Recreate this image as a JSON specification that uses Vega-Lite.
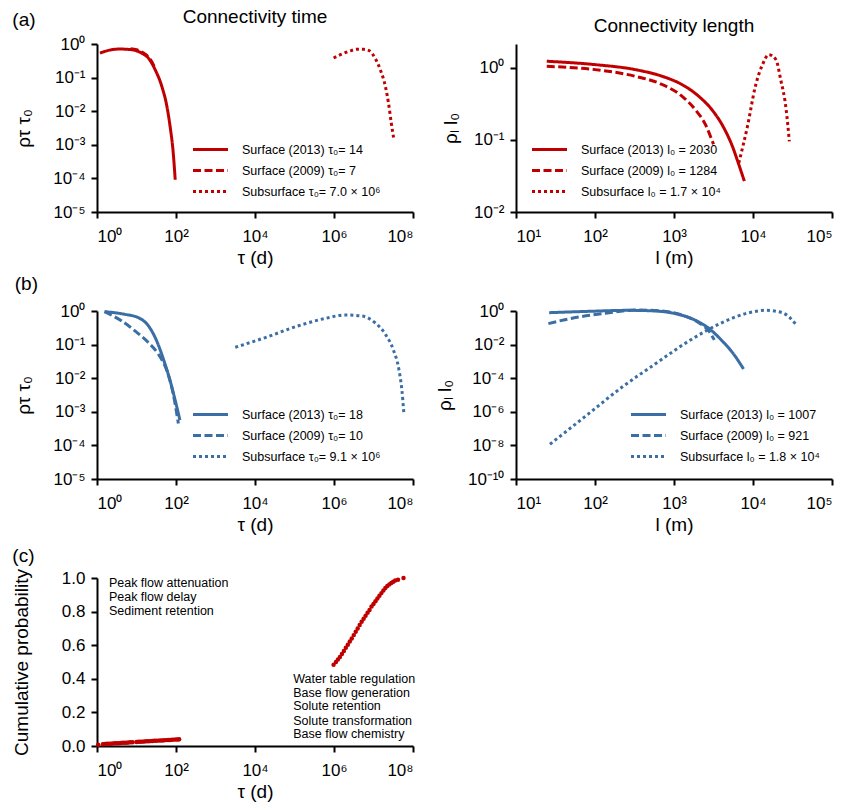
{
  "$schema": "https://vega.github.io/schema/vega-lite/v6.json",
  "padding": {"left": 12, "top": 8, "right": 5, "bottom": 5},
  "config": {
    "font": "Liberation Sans",
    "view": {"stroke": null},
    "axis": {"domainColor": "#000", "domainWidth": 2, "tickColor": "#000", "tickWidth": 2, "tickSize": 6, "labelFontSize": 17, "labelColor": "#000", "titleFontSize": 19, "titleFontWeight": "normal", "titleColor": "#000", "grid": false, "labelPadding": 6, "labelOverlap": false},
    "axisX": {"labelPadding": 10},
    "legend": {"labelFontSize": 12.5, "labelColor": "#000", "labelLimit": 400, "padding": 0, "rowPadding": 7, "labelOffset": 24, "symbolStrokeWidth": 3, "symbolSize": 136, "symbolType": "M-3,0H3"},
    "title": {"fontSize": 19, "fontWeight": "normal", "color": "#000"}
  },
  "title": {"text": "(a)", "anchor": "start", "frame": "bounds", "offset": 0, "dy": 22},
  "columns": 2,
  "spacing": {"row": 99, "column": 103},
  "bounds": "flush",
  "resolve": {"scale": {"x": "independent", "y": "independent", "strokeDash": "independent"}, "legend": {"strokeDash": "independent"}},
  "concat": [
    {
      "width": 316, "height": 168,
      "title": {"text": "Connectivity time", "anchor": "middle", "frame": "group", "offset": 8},
      "data": {"values": [
        {"s": "Surface (2013) τ₀= 14", "x": 1.19, "y": 0.537},
        {"s": "Surface (2013) τ₀= 14", "x": 1.95, "y": 0.646},
        {"s": "Surface (2013) τ₀= 14", "x": 3.8, "y": 0.708},
        {"s": "Surface (2013) τ₀= 14", "x": 7.59, "y": 0.676},
        {"s": "Surface (2013) τ₀= 14", "x": 13.5, "y": 0.537},
        {"s": "Surface (2013) τ₀= 14", "x": 20, "y": 0.38},
        {"s": "Surface (2013) τ₀= 14", "x": 29.5, "y": 0.174},
        {"s": "Surface (2013) τ₀= 14", "x": 43.7, "y": 0.055},
        {"s": "Surface (2013) τ₀= 14", "x": 58.9, "y": 0.0138},
        {"s": "Surface (2013) τ₀= 14", "x": 70.8, "y": 0.00355},
        {"s": "Surface (2013) τ₀= 14", "x": 85.1, "y": 0.000575},
        {"s": "Surface (2013) τ₀= 14", "x": 95.5, "y": 0.0000912},
        {"s": "Surface (2009) τ₀= 7", "x": 7.08, "y": 0.724},
        {"s": "Surface (2009) τ₀= 7", "x": 10, "y": 0.676},
        {"s": "Surface (2009) τ₀= 7", "x": 13.2, "y": 0.589},
        {"s": "Surface (2009) τ₀= 7", "x": 17, "y": 0.49},
        {"s": "Surface (2009) τ₀= 7", "x": 21.4, "y": 0.372},
        {"s": "Surface (2009) τ₀= 7", "x": 26.9, "y": 0.24},
        {"s": "Surface (2009) τ₀= 7", "x": 29.5, "y": 0.191},
        {"s": "Subsurface τ₀= 7.0 × 10⁶", "x": 977000, "y": 0.383},
        {"s": "Subsurface τ₀= 7.0 × 10⁶", "x": 1585000, "y": 0.501},
        {"s": "Subsurface τ₀= 7.0 × 10⁶", "x": 2512000, "y": 0.617},
        {"s": "Subsurface τ₀= 7.0 × 10⁶", "x": 3980000, "y": 0.7},
        {"s": "Subsurface τ₀= 7.0 × 10⁶", "x": 5620000, "y": 0.692},
        {"s": "Subsurface τ₀= 7.0 × 10⁶", "x": 7500000, "y": 0.646},
        {"s": "Subsurface τ₀= 7.0 × 10⁶", "x": 10960000, "y": 0.38},
        {"s": "Subsurface τ₀= 7.0 × 10⁶", "x": 14790000, "y": 0.174},
        {"s": "Subsurface τ₀= 7.0 × 10⁶", "x": 19950000, "y": 0.055},
        {"s": "Subsurface τ₀= 7.0 × 10⁶", "x": 23990000, "y": 0.0174},
        {"s": "Subsurface τ₀= 7.0 × 10⁶", "x": 28180000, "y": 0.00447},
        {"s": "Subsurface τ₀= 7.0 × 10⁶", "x": 32360000, "y": 0.00158}
      ]},
      "mark": {"type": "line", "color": "#c00000", "strokeWidth": 3, "interpolate": "monotone"},
      "encoding": {
        "x": {"field": "x", "type": "quantitative", "scale": {"type": "log", "domain": [1, 100000000], "nice": false},
              "axis": {"title": "τ (d)", "values": [1, 100, 10000, 1000000, 100000000], "labelExpr": "'10' + ['⁻¹⁰','⁻⁹','⁻⁸','⁻⁷','⁻⁶','⁻⁵','⁻⁴','⁻³','⁻²','⁻¹','⁰','¹','²','³','⁴','⁵','⁶','⁷','⁸','⁹'][round(log(datum.value)/LN10)+10]"}},
        "y": {"field": "y", "type": "quantitative", "scale": {"type": "log", "domain": [0.00001, 1], "nice": false},
              "axis": {"title": "ρτ τ₀", "titlePadding": 19, "values": [0.00001, 0.0001, 0.001, 0.01, 0.1, 1], "labelExpr": "'10' + ['⁻¹⁰','⁻⁹','⁻⁸','⁻⁷','⁻⁶','⁻⁵','⁻⁴','⁻³','⁻²','⁻¹','⁰','¹','²','³','⁴','⁵','⁶','⁷','⁸','⁹'][round(log(datum.value)/LN10)+10]"}},
        "strokeDash": {"field": "s", "type": "nominal",
              "scale": {"domain": ["Surface (2013) τ₀= 14", "Surface (2009) τ₀= 7", "Subsurface τ₀= 7.0 × 10⁶"], "range": [[1, 0], [8, 3.5], [3, 3]]},
              "legend": {"title": null, "orient": "none", "legendX": 106, "legendY": 98}}
      }
    },
    {
      "width": 316, "height": 168,
      "title": {"text": "Connectivity length", "anchor": "middle", "frame": "group", "offset": 8},
      "data": {"values": [
        {"s": "Surface (2013) l₀ = 2030", "x": 24.5, "y": 1.239},
        {"s": "Surface (2013) l₀ = 2030", "x": 100, "y": 1.112},
        {"s": "Surface (2013) l₀ = 2030", "x": 323.6, "y": 0.948},
        {"s": "Surface (2013) l₀ = 2030", "x": 707.9, "y": 0.766},
        {"s": "Surface (2013) l₀ = 2030", "x": 1259, "y": 0.589},
        {"s": "Surface (2013) l₀ = 2030", "x": 2042, "y": 0.407},
        {"s": "Surface (2013) l₀ = 2030", "x": 3020, "y": 0.263},
        {"s": "Surface (2013) l₀ = 2030", "x": 4266, "y": 0.148},
        {"s": "Surface (2013) l₀ = 2030", "x": 5495, "y": 0.0813},
        {"s": "Surface (2013) l₀ = 2030", "x": 6607, "y": 0.0457},
        {"s": "Surface (2013) l₀ = 2030", "x": 7762, "y": 0.0269},
        {"s": "Surface (2009) l₀ = 1284", "x": 24.5, "y": 1.054},
        {"s": "Surface (2009) l₀ = 1284", "x": 100, "y": 0.948},
        {"s": "Surface (2009) l₀ = 1284", "x": 323.6, "y": 0.766},
        {"s": "Surface (2009) l₀ = 1284", "x": 707.9, "y": 0.589},
        {"s": "Surface (2009) l₀ = 1284", "x": 1259, "y": 0.407},
        {"s": "Surface (2009) l₀ = 1284", "x": 1862, "y": 0.263},
        {"s": "Surface (2009) l₀ = 1284", "x": 2512, "y": 0.162},
        {"s": "Surface (2009) l₀ = 1284", "x": 3162, "y": 0.0871},
        {"s": "Subsurface l₀ = 1.7 × 10⁴", "x": 6607, "y": 0.0479},
        {"s": "Subsurface l₀ = 1.7 × 10⁴", "x": 8511, "y": 0.155},
        {"s": "Subsurface l₀ = 1.7 × 10⁴", "x": 10715, "y": 0.556},
        {"s": "Subsurface l₀ = 1.7 × 10⁴", "x": 13183, "y": 1.112},
        {"s": "Subsurface l₀ = 1.7 × 10⁴", "x": 15849, "y": 1.531},
        {"s": "Subsurface l₀ = 1.7 × 10⁴", "x": 19498, "y": 1.306},
        {"s": "Subsurface l₀ = 1.7 × 10⁴", "x": 22387, "y": 0.692},
        {"s": "Subsurface l₀ = 1.7 × 10⁴", "x": 26303, "y": 0.263},
        {"s": "Subsurface l₀ = 1.7 × 10⁴", "x": 28840, "y": 0.0955}
      ]},
      "mark": {"type": "line", "color": "#c00000", "strokeWidth": 3, "interpolate": "monotone"},
      "encoding": {
        "x": {"field": "x", "type": "quantitative", "scale": {"type": "log", "domain": [10, 100000], "nice": false},
              "axis": {"title": "l (m)", "values": [10, 100, 1000, 10000, 100000], "labelExpr": "'10' + ['⁻¹⁰','⁻⁹','⁻⁸','⁻⁷','⁻⁶','⁻⁵','⁻⁴','⁻³','⁻²','⁻¹','⁰','¹','²','³','⁴','⁵','⁶','⁷','⁸','⁹'][round(log(datum.value)/LN10)+10]"}},
        "y": {"field": "y", "type": "quantitative", "scale": {"type": "log", "domain": [0.01, 2.15], "nice": false},
              "axis": {"title": "ρₗ l₀", "titlePadding": 13, "values": [0.01, 0.1, 1], "labelExpr": "'10' + ['⁻¹⁰','⁻⁹','⁻⁸','⁻⁷','⁻⁶','⁻⁵','⁻⁴','⁻³','⁻²','⁻¹','⁰','¹','²','³','⁴','⁵','⁶','⁷','⁸','⁹'][round(log(datum.value)/LN10)+10]"}},
        "strokeDash": {"field": "s", "type": "nominal",
              "scale": {"domain": ["Surface (2013) l₀ = 2030", "Surface (2009) l₀ = 1284", "Subsurface l₀ = 1.7 × 10⁴"], "range": [[1, 0], [8, 3.5], [3, 3]]},
              "legend": {"title": null, "orient": "none", "legendX": 26, "legendY": 98}}
      }
    },
    {
      "width": 316, "height": 168,
      "title": {"text": "(b)", "anchor": "start", "frame": "bounds", "offset": 8},
      "data": {"values": [
        {"s": "Surface (2013) τ₀= 18", "x": 1.55, "y": 0.955},
        {"s": "Surface (2013) τ₀= 18", "x": 5.13, "y": 0.794},
        {"s": "Surface (2013) τ₀= 18", "x": 11.2, "y": 0.631},
        {"s": "Surface (2013) τ₀= 18", "x": 20, "y": 0.363},
        {"s": "Surface (2013) τ₀= 18", "x": 32.4, "y": 0.129},
        {"s": "Surface (2013) τ₀= 18", "x": 47.9, "y": 0.0372},
        {"s": "Surface (2013) τ₀= 18", "x": 70.8, "y": 0.00851},
        {"s": "Surface (2013) τ₀= 18", "x": 95.5, "y": 0.00219},
        {"s": "Surface (2013) τ₀= 18", "x": 125.9, "y": 0.000562},
        {"s": "Surface (2009) τ₀= 10", "x": 1.55, "y": 0.955},
        {"s": "Surface (2009) τ₀= 10", "x": 4.27, "y": 0.501},
        {"s": "Surface (2009) τ₀= 10", "x": 9.12, "y": 0.257},
        {"s": "Surface (2009) τ₀= 10", "x": 20, "y": 0.115},
        {"s": "Surface (2009) τ₀= 10", "x": 35.5, "y": 0.0525},
        {"s": "Surface (2009) τ₀= 10", "x": 58.9, "y": 0.0166},
        {"s": "Surface (2009) τ₀= 10", "x": 85.1, "y": 0.00339},
        {"s": "Surface (2009) τ₀= 10", "x": 114.8, "y": 0.000447},
        {"s": "Subsurface τ₀= 9.1 × 10⁶", "x": 3162, "y": 0.0832},
        {"s": "Subsurface τ₀= 9.1 × 10⁶", "x": 18197, "y": 0.162},
        {"s": "Subsurface τ₀= 9.1 × 10⁶", "x": 125893, "y": 0.363},
        {"s": "Subsurface τ₀= 9.1 × 10⁶", "x": 602560, "y": 0.603},
        {"s": "Subsurface τ₀= 9.1 × 10⁶", "x": 1905000, "y": 0.759},
        {"s": "Subsurface τ₀= 9.1 × 10⁶", "x": 5130000, "y": 0.708},
        {"s": "Subsurface τ₀= 9.1 × 10⁶", "x": 10960000, "y": 0.447},
        {"s": "Subsurface τ₀= 9.1 × 10⁶", "x": 19950000, "y": 0.204},
        {"s": "Subsurface τ₀= 9.1 × 10⁶", "x": 32360000, "y": 0.0661},
        {"s": "Subsurface τ₀= 9.1 × 10⁶", "x": 43650000, "y": 0.0191},
        {"s": "Subsurface τ₀= 9.1 × 10⁶", "x": 52480000, "y": 0.00427},
        {"s": "Subsurface τ₀= 9.1 × 10⁶", "x": 58880000, "y": 0.000871}
      ]},
      "mark": {"type": "line", "color": "#3a6ea5", "strokeWidth": 3, "interpolate": "monotone"},
      "encoding": {
        "x": {"field": "x", "type": "quantitative", "scale": {"type": "log", "domain": [1, 100000000], "nice": false},
              "axis": {"title": "τ (d)", "values": [1, 100, 10000, 1000000, 100000000], "labelExpr": "'10' + ['⁻¹⁰','⁻⁹','⁻⁸','⁻⁷','⁻⁶','⁻⁵','⁻⁴','⁻³','⁻²','⁻¹','⁰','¹','²','³','⁴','⁵','⁶','⁷','⁸','⁹'][round(log(datum.value)/LN10)+10]"}},
        "y": {"field": "y", "type": "quantitative", "scale": {"type": "log", "domain": [0.00001, 1], "nice": false},
              "axis": {"title": "ρτ τ₀", "titlePadding": 19, "values": [0.00001, 0.0001, 0.001, 0.01, 0.1, 1], "labelExpr": "'10' + ['⁻¹⁰','⁻⁹','⁻⁸','⁻⁷','⁻⁶','⁻⁵','⁻⁴','⁻³','⁻²','⁻¹','⁰','¹','²','³','⁴','⁵','⁶','⁷','⁸','⁹'][round(log(datum.value)/LN10)+10]"}},
        "strokeDash": {"field": "s", "type": "nominal",
              "scale": {"domain": ["Surface (2013) τ₀= 18", "Surface (2009) τ₀= 10", "Subsurface τ₀= 9.1 × 10⁶"], "range": [[1, 0], [8, 3.5], [3, 3]]},
              "legend": {"title": null, "orient": "none", "legendX": 106, "legendY": 96}}
      }
    },
    {
      "width": 316, "height": 168,
      "data": {"values": [
        {"s": "Surface (2013) l₀ = 1007", "x": 26.3, "y": 0.794},
        {"s": "Surface (2013) l₀ = 1007", "x": 83.2, "y": 0.955},
        {"s": "Surface (2013) l₀ = 1007", "x": 269, "y": 1.096},
        {"s": "Surface (2013) l₀ = 1007", "x": 575, "y": 1.0},
        {"s": "Surface (2013) l₀ = 1007", "x": 1047, "y": 0.692},
        {"s": "Surface (2013) l₀ = 1007", "x": 1862, "y": 0.282},
        {"s": "Surface (2013) l₀ = 1007", "x": 2754, "y": 0.0933},
        {"s": "Surface (2013) l₀ = 1007", "x": 4074, "y": 0.0166},
        {"s": "Surface (2013) l₀ = 1007", "x": 5754, "y": 0.00251},
        {"s": "Surface (2013) l₀ = 1007", "x": 7586, "y": 0.000355},
        {"s": "Surface (2009) l₀ = 921", "x": 25.7, "y": 0.178},
        {"s": "Surface (2009) l₀ = 921", "x": 51.3, "y": 0.372},
        {"s": "Surface (2009) l₀ = 921", "x": 134.9, "y": 0.724},
        {"s": "Surface (2009) l₀ = 921", "x": 354.8, "y": 1.148},
        {"s": "Surface (2009) l₀ = 921", "x": 707.9, "y": 1.0},
        {"s": "Surface (2009) l₀ = 921", "x": 1380, "y": 0.501},
        {"s": "Surface (2009) l₀ = 921", "x": 2042, "y": 0.204},
        {"s": "Surface (2009) l₀ = 921", "x": 2754, "y": 0.0661},
        {"s": "Surface (2009) l₀ = 921", "x": 3236, "y": 0.0191},
        {"s": "Subsurface l₀ = 1.8 × 10⁴", "x": 26.9, "y": 0.0000000117},
        {"s": "Subsurface l₀ = 1.8 × 10⁴", "x": 83.2, "y": 0.000000776},
        {"s": "Subsurface l₀ = 1.8 × 10⁴", "x": 218.8, "y": 0.0000288},
        {"s": "Subsurface l₀ = 1.8 × 10⁴", "x": 575, "y": 0.000692},
        {"s": "Subsurface l₀ = 1.8 × 10⁴", "x": 1549, "y": 0.0166},
        {"s": "Subsurface l₀ = 1.8 × 10⁴", "x": 4074, "y": 0.204},
        {"s": "Subsurface l₀ = 1.8 × 10⁴", "x": 8913, "y": 0.794},
        {"s": "Subsurface l₀ = 1.8 × 10⁴", "x": 14454, "y": 1.096},
        {"s": "Subsurface l₀ = 1.8 × 10⁴", "x": 23442, "y": 0.794},
        {"s": "Subsurface l₀ = 1.8 × 10⁴", "x": 36308, "y": 0.129}
      ]},
      "mark": {"type": "line", "color": "#3a6ea5", "strokeWidth": 3, "interpolate": "monotone"},
      "encoding": {
        "x": {"field": "x", "type": "quantitative", "scale": {"type": "log", "domain": [10, 100000], "nice": false},
              "axis": {"title": "l (m)", "values": [10, 100, 1000, 10000, 100000], "labelExpr": "'10' + ['⁻¹⁰','⁻⁹','⁻⁸','⁻⁷','⁻⁶','⁻⁵','⁻⁴','⁻³','⁻²','⁻¹','⁰','¹','²','³','⁴','⁵','⁶','⁷','⁸','⁹'][round(log(datum.value)/LN10)+10]"}},
        "y": {"field": "y", "type": "quantitative", "scale": {"type": "log", "domain": [0.0000000001, 1], "nice": false},
              "axis": {"title": "ρₗ l₀", "titlePadding": 13, "values": [0.0000000001, 0.00000001, 0.000001, 0.0001, 0.01, 1], "labelExpr": "'10' + ['⁻¹⁰','⁻⁹','⁻⁸','⁻⁷','⁻⁶','⁻⁵','⁻⁴','⁻³','⁻²','⁻¹','⁰','¹','²','³','⁴','⁵','⁶','⁷','⁸','⁹'][round(log(datum.value)/LN10)+10]"}},
        "strokeDash": {"field": "s", "type": "nominal",
              "scale": {"domain": ["Surface (2013) l₀ = 1007", "Surface (2009) l₀ = 921", "Subsurface l₀ = 1.8 × 10⁴"], "range": [[1, 0], [8, 3.5], [3, 3]]},
              "legend": {"title": null, "orient": "none", "legendX": 125, "legendY": 96}}
      }
    },
    {
      "width": 316, "height": 168,
      "title": {"text": "(c)", "anchor": "start", "frame": "bounds", "offset": 3},
      "encoding": {
        "x": {"field": "x", "type": "quantitative", "scale": {"type": "log", "domain": [1, 100000000], "nice": false},
              "axis": {"title": "τ (d)", "values": [1, 100, 10000, 1000000, 100000000], "labelExpr": "'10' + ['⁻¹⁰','⁻⁹','⁻⁸','⁻⁷','⁻⁶','⁻⁵','⁻⁴','⁻³','⁻²','⁻¹','⁰','¹','²','³','⁴','⁵','⁶','⁷','⁸','⁹'][round(log(datum.value)/LN10)+10]"}},
        "y": {"field": "y", "type": "quantitative", "scale": {"domain": [0, 1], "nice": false},
              "axis": {"title": "Cumulative probability", "titlePadding": 30, "values": [0, 0.2, 0.4, 0.6, 0.8, 1], "labelExpr": "format(datum.value, '.1f')", "labelOverlap": false, "labelFlush": false}}
      },
      "layer": [
        {
          "data": {"values": [
            {"x": 1.07, "y": 0.008}, {"x": 1.41, "y": 0.011}, {"x": 1.58, "y": 0.012}, {"x": 1.78, "y": 0.013}, {"x": 2.0, "y": 0.013},
            {"x": 2.24, "y": 0.014}, {"x": 2.51, "y": 0.015}, {"x": 2.82, "y": 0.016}, {"x": 3.16, "y": 0.016}, {"x": 3.55, "y": 0.017},
            {"x": 3.98, "y": 0.018}, {"x": 4.47, "y": 0.019}, {"x": 5.01, "y": 0.019}, {"x": 5.62, "y": 0.02}, {"x": 6.31, "y": 0.021},
            {"x": 7.08, "y": 0.022}, {"x": 7.94, "y": 0.022}, {"x": 10, "y": 0.024}, {"x": 11.2, "y": 0.025}, {"x": 12.6, "y": 0.025},
            {"x": 14.1, "y": 0.026}, {"x": 15.8, "y": 0.027}, {"x": 17.8, "y": 0.028}, {"x": 20, "y": 0.028}, {"x": 22.4, "y": 0.029},
            {"x": 25.1, "y": 0.030}, {"x": 28.2, "y": 0.031}, {"x": 31.6, "y": 0.031}, {"x": 35.5, "y": 0.032}, {"x": 39.8, "y": 0.033},
            {"x": 44.7, "y": 0.033}, {"x": 50.1, "y": 0.034}, {"x": 56.2, "y": 0.035}, {"x": 63.1, "y": 0.036}, {"x": 70.8, "y": 0.036},
            {"x": 79.4, "y": 0.037}, {"x": 89.1, "y": 0.038}, {"x": 100, "y": 0.039}, {"x": 112, "y": 0.039}, {"x": 120, "y": 0.040},
            {"x": 977000, "y": 0.484}, {"x": 1122000, "y": 0.5}, {"x": 1259000, "y": 0.515}, {"x": 1413000, "y": 0.53}, {"x": 1585000, "y": 0.548},
            {"x": 1778000, "y": 0.565}, {"x": 1995000, "y": 0.585}, {"x": 2239000, "y": 0.603}, {"x": 2512000, "y": 0.622}, {"x": 2818000, "y": 0.64},
            {"x": 3162000, "y": 0.66}, {"x": 3548000, "y": 0.68}, {"x": 3981000, "y": 0.7}, {"x": 4467000, "y": 0.72}, {"x": 5012000, "y": 0.74},
            {"x": 5623000, "y": 0.757}, {"x": 6310000, "y": 0.775}, {"x": 7079000, "y": 0.793}, {"x": 7943000, "y": 0.81}, {"x": 8913000, "y": 0.83},
            {"x": 10000000, "y": 0.845}, {"x": 11220000, "y": 0.862}, {"x": 12590000, "y": 0.878}, {"x": 14130000, "y": 0.895}, {"x": 15850000, "y": 0.91},
            {"x": 17780000, "y": 0.925}, {"x": 19950000, "y": 0.94}, {"x": 22390000, "y": 0.952}, {"x": 25120000, "y": 0.962}, {"x": 28180000, "y": 0.97},
            {"x": 31620000, "y": 0.978}, {"x": 35480000, "y": 0.985}, {"x": 41690000, "y": 0.99}, {"x": 57540000, "y": 1.0}
          ]},
          "mark": {"type": "point", "filled": true, "size": 20, "color": "#c00000", "opacity": 1, "strokeWidth": 0}
        },
        {
          "data": {"values": [
            {"x": 2.0, "y": 0.972, "t": "Peak flow attenuation"},
            {"x": 2.0, "y": 0.887, "t": "Peak flow delay"},
            {"x": 2.0, "y": 0.804, "t": "Sediment retention"},
            {"x": 93000, "y": 0.401, "t": "Water table regulation"},
            {"x": 93000, "y": 0.317, "t": "Base flow generation"},
            {"x": 93000, "y": 0.236, "t": "Solute retention"},
            {"x": 93000, "y": 0.151, "t": "Solute transformation"},
            {"x": 93000, "y": 0.069, "t": "Base flow chemistry"}
          ]},
          "mark": {"type": "text", "align": "left", "baseline": "middle", "fontSize": 12.5, "color": "#000"},
          "encoding": {
            "text": {"field": "t", "type": "nominal"}
          }
        }
      ]
    }
  ]
}
